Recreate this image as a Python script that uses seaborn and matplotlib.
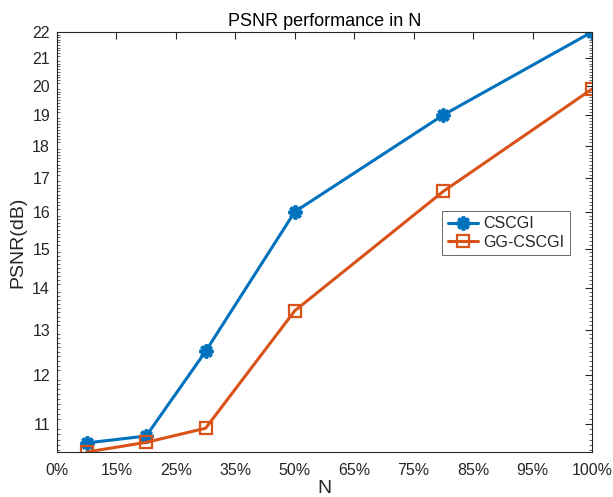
import numpy as np
import pandas as pd
import matplotlib
matplotlib.use("Agg")
import matplotlib.pyplot as plt
import seaborn as sns
from matplotlib.ticker import FixedLocator, NullFormatter

# ---- data ----
n_labels = ['10%', '20%', '30%', '50%', '80%', '100%']
x_pos = [0.5, 1.5, 2.5, 4.0, 6.5, 9.0]          # position on the tick-index axis
cscgi = [10.64, 10.77, 12.51, 16.01, 19.0, 22.0]
gg_cscgi = [10.47, 10.65, 10.92, 13.44, 16.6, 19.89]
xtick_labels = ['0%', '15%', '25%', '35%', '50%', '65%', '75%', '85%', '95%', '100%']
ytick_values = [11, 12, 13, 14, 15, 16, 17, 18, 19, 20, 21, 22]

sns.set_style('white')
plt.rcParams['font.family'] = ['Liberation Sans', 'DejaVu Sans']
plt.rcParams['xtick.direction'] = 'in'
plt.rcParams['ytick.direction'] = 'in'

fig = plt.figure(figsize=(6.13, 4.97), dpi=100)
ax = fig.add_axes([0.093, 0.0905, 0.8727, 0.8451])

df = pd.DataFrame({
    'x': x_pos * 2,
    'y': cscgi + gg_cscgi,
    'series': ['CSCGI'] * len(x_pos) + ['GG-CSCGI'] * len(x_pos),
})

blue = '#0072BD'
orange = '#D95319'

sns.lineplot(data=df[df.series == 'CSCGI'], x='x', y='y', ax=ax, color=blue,
             linewidth=2.2, marker=(8, 2, 0), markersize=10, markeredgewidth=2.6,
             markeredgecolor=blue, label='CSCGI')
sns.lineplot(data=df[df.series == 'GG-CSCGI'], x='x', y='y', ax=ax, color=orange,
             linewidth=2.2, marker='s', markersize=8.5, markeredgewidth=1.6,
             markerfacecolor='none', markeredgecolor=orange, label='GG-CSCGI')

ax.set_yscale('log')
ax.set_ylim(10.47, 22.0)
ax.set_xlim(0, 9)
ax.set_xticks(range(10))
ax.set_xticklabels(xtick_labels)
ax.yaxis.set_major_locator(FixedLocator(ytick_values))
ax.set_yticklabels([str(v) for v in ytick_values])
ax.yaxis.set_minor_locator(FixedLocator(np.arange(10.5, 22.01, 0.1)))
ax.yaxis.set_minor_formatter(NullFormatter())

ax.tick_params(axis='both', which='major', length=5, width=0.8, colors='#262626',
               labelsize=11.5, top=True, right=True)
ax.tick_params(axis='x', which='major', pad=8)
ax.tick_params(axis='y', which='major', pad=5)
ax.tick_params(axis='y', which='minor', length=2.5, width=0.5, colors='#262626',
               right=True, left=True)
ax.tick_params(axis='x', which='minor', bottom=False, top=False)
for s in ax.spines.values():
    s.set_color('#262626')
    s.set_linewidth(0.8)

ax.set_title('PSNR performance in N', fontsize=13, color='black', pad=4)
ax.set_xlabel('N', fontsize=14, color='#262626', labelpad=1)
ax.set_ylabel('PSNR(dB)', fontsize=14, color='#262626', labelpad=4)

leg = ax.legend(loc='upper left', bbox_to_anchor=(0.72, 0.575), frameon=True,
                fancybox=False, fontsize=11.5, handlelength=1.9, borderpad=0.35,
                labelspacing=0.22, handletextpad=0.3, borderaxespad=0)
leg.get_frame().set_edgecolor('#262626')
leg.get_frame().set_linewidth(0.6)

fig.savefig('out.png', dpi=100)
